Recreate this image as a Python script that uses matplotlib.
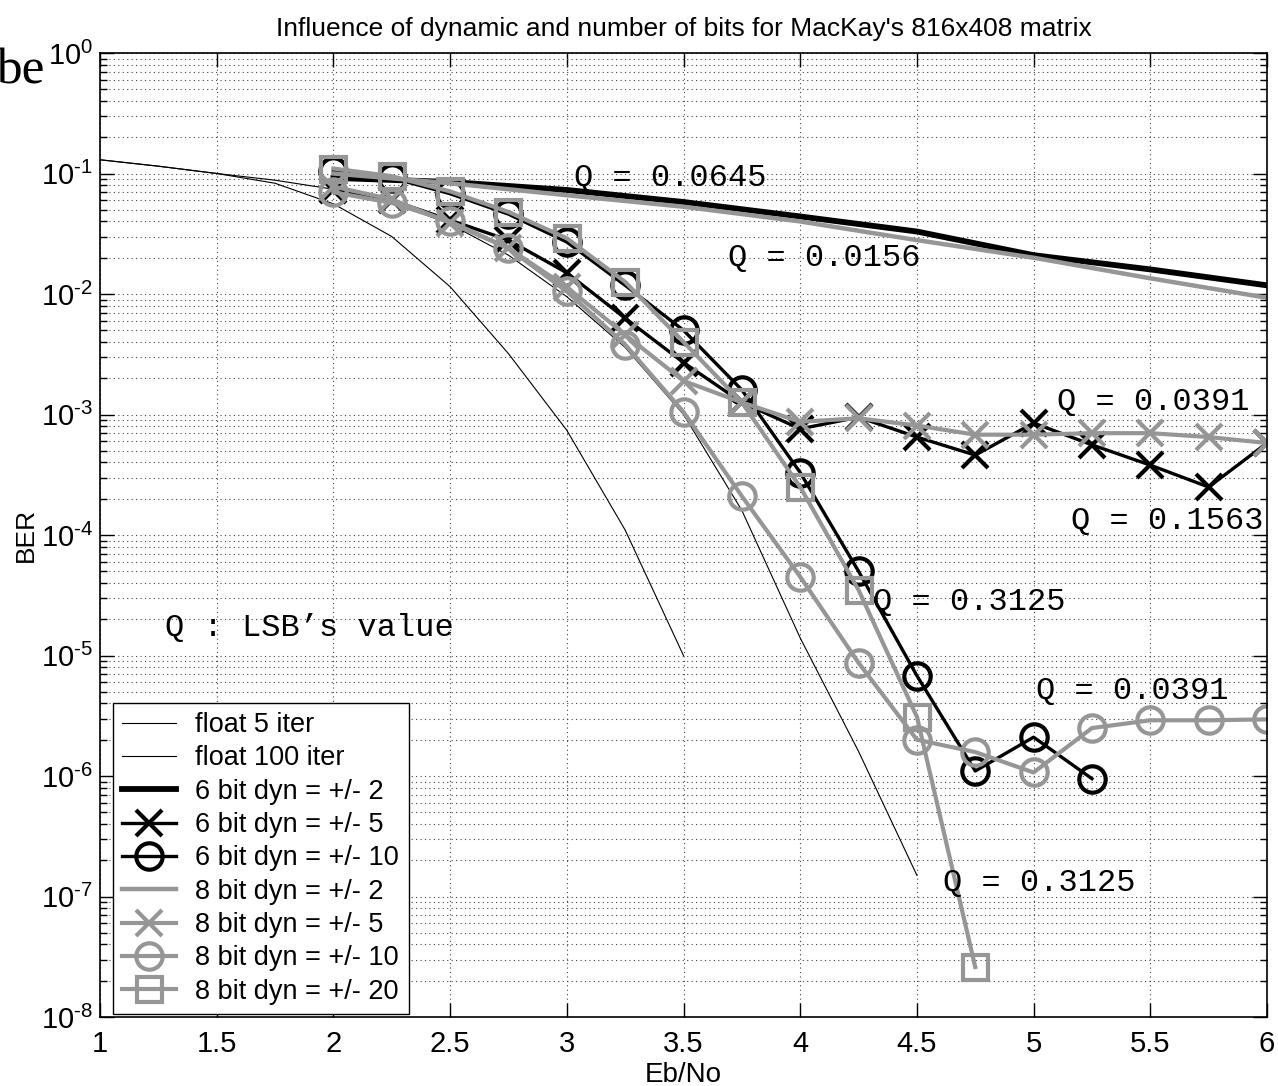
import matplotlib
matplotlib.use("Agg")
import matplotlib.pyplot as plt
import numpy as np

plt.rcParams['font.family'] = ['Liberation Sans', 'DejaVu Sans']
plt.rcParams['mathtext.fontset'] = 'custom'
plt.rcParams['mathtext.rm'] = 'Liberation Sans'

# Eb/No grids
ebno_float5 = [1.0, 1.25, 1.5, 1.75, 2.0, 2.25, 2.5, 2.75, 3.0, 3.25, 3.5]
ebno_float100 = [1.0, 1.25, 1.5, 1.75, 2.0, 2.25, 2.5, 2.75, 3.0, 3.25, 3.5,
                 3.75, 4.0, 4.25, 4.5]
ebno_half = [2.0, 2.5, 3.0, 3.5, 4.0, 4.5, 5.0, 5.5, 6.0]
ebno_full = [2.0, 2.25, 2.5, 2.75, 3.0, 3.25, 3.5, 3.75, 4.0, 4.25, 4.5,
             4.75, 5.0, 5.25, 5.5, 5.75, 6.0]

# BER values
ber_float5 = [0.13, 0.115, 0.1, 0.083, 0.056, 0.03, 0.0115, 3.2e-3, 7.4e-4,
              1.1e-4, 1.0e-5]
ber_float100 = [0.13, 0.115, 0.1, 0.088, 0.074, 0.058, 0.038, 0.021, 0.0095,
                0.0036, 0.001, 1.6e-4, 1.4e-5, 1.6e-6, 1.5e-7]
ber_6b_d2 = [0.092, 0.085, 0.073, 0.058, 0.044, 0.033, 0.021, 0.016, 0.0118]
ber_6b_d5 = [0.073, 0.060, 0.041, 0.028, 0.015, 0.0063, 0.0027, 0.00126,
             7.6e-4, 9.5e-4, 6.5e-4, 4.6e-4, 8.5e-4, 5.6e-4, 3.8e-4, 2.5e-4,
             5.8e-4]
ber_6b_d10 = [0.105, 0.092, 0.068, 0.046, 0.027, 0.0118, 0.0050, 0.0016,
              3.3e-4, 5.0e-5, 6.8e-6, 1.1e-6, 2.1e-6, 9.5e-7]
ber_8b_d2 = [0.10, 0.083, 0.066, 0.053, 0.040, 0.028, 0.020, 0.0135, 0.0093]
ber_8b_d5 = [0.078, 0.061, 0.039, 0.024, 0.0114, 0.0046, 0.0019, 0.00126,
             8.7e-4, 9.3e-4, 8.1e-4, 6.8e-4, 6.8e-4, 7.0e-4, 7.0e-4, 6.5e-4,
             5.8e-4]
ber_8b_d10 = [0.070, 0.057, 0.040, 0.024, 0.0105, 0.0038, 0.00105, 2.1e-4,
              4.5e-5, 8.7e-6, 2.0e-6, 1.58e-6, 1.07e-6, 2.5e-6, 2.9e-6, 2.9e-6,
              2.95e-6]
ber_8b_d20 = [0.11, 0.095, 0.071, 0.048, 0.029, 0.0126, 0.0040, 0.00126,
              2.5e-4, 3.5e-5, 3.1e-6, 2.6e-8]

# annotations: (text, Eb/No, BER) - left edge, vertical center
q_labels = ["Q = 0.0645", "Q = 0.0156", "Q = 0.0391", "Q = 0.1563",
            "Q = 0.3125", "Q = 0.0391", "Q = 0.3125"]
q_x = [3.03, 3.69, 5.10, 5.16, 4.31, 5.01, 4.61]
q_y = [0.092, 0.020, 1.26e-3, 1.3e-4, 2.8e-5, 5.1e-6, 1.3e-7]

gray = '#969696'

fig = plt.figure(figsize=(12.78, 10.86), dpi=100)
ax = fig.add_axes([100 / 1278, 1 - 1017 / 1086, 1167 / 1278, 964 / 1086])

ms = 19
ax.plot(ebno_float5, ber_float5, color='black', lw=0.8, label='float 5 iter')
ax.plot(ebno_float100, ber_float100, color='black', lw=0.8, label='float 100 iter')
ax.plot(ebno_half, ber_6b_d2, color='black', lw=4.2, label='6 bit dyn = +/- 2')
ax.plot(ebno_full, ber_6b_d5, color='black', lw=2.4, marker='x', ms=ms, mew=3,
        label='6 bit dyn = +/- 5')
ax.plot(ebno_full[:len(ber_6b_d10)], ber_6b_d10, color='black', lw=2.4, marker='o',
        ms=ms, mew=3, mfc='none', label='6 bit dyn = +/- 10')
ax.plot(ebno_half, ber_8b_d2, color=gray, lw=3.2, label='8 bit dyn = +/- 2')
ax.plot(ebno_full, ber_8b_d5, color=gray, lw=3.0, marker='x', ms=ms, mew=3,
        label='8 bit dyn = +/- 5')
ax.plot(ebno_full, ber_8b_d10, color=gray, lw=3.0, marker='o', ms=ms, mew=3,
        mfc='none', label='8 bit dyn = +/- 10')
ax.plot(ebno_full[:len(ber_8b_d20)], ber_8b_d20, color=gray, lw=3.0, marker='s',
        ms=ms - 1, mew=3, mfc='none', label='8 bit dyn = +/- 20')

ax.set_yscale('log')
ax.set_xlim(1, 6)
ax.set_ylim(1e-8, 1)
ax.set_xticks([1, 1.5, 2, 2.5, 3, 3.5, 4, 4.5, 5, 5.5, 6])
ax.set_xticklabels(['1', '1.5', '2', '2.5', '3', '3.5', '4', '4.5', '5', '5.5', '6'])
ax.yaxis.set_major_locator(matplotlib.ticker.LogLocator(base=10, numticks=20))
ax.yaxis.set_minor_locator(matplotlib.ticker.LogLocator(base=10, subs=np.arange(2, 10), numticks=20))
ax.yaxis.set_major_formatter(matplotlib.ticker.FuncFormatter(
    lambda v, p: r'$\mathdefault{10^{\text{-}%d}}$' % round(-np.log10(v)) if v < 1 else r'$\mathdefault{10^{0}}$'))
ax.tick_params(which='both', direction='in', top=True, right=True)
ax.tick_params(axis='x', labelsize=21, pad=9)
ax.tick_params(axis='y', labelsize=21, pad=5)
ax.tick_params(which='major', length=10, width=1)
ax.tick_params(which='minor', length=5, width=1)
ax.grid(True, which='major', linestyle=(0, (1, 3)), color='#444444', lw=0.8)
ax.grid(True, which='minor', axis='y', linestyle=(0, (1, 3)), color='#444444', lw=0.8)
for s in ax.spines.values():
    s.set_linewidth(1.2)

ax.set_title("Influence of dynamic and number of bits for MacKay's 816x408 matrix",
             fontsize=19, pad=12)
ax.set_xlabel('Eb/No', fontsize=20, labelpad=3)
ax.set_ylabel('BER', fontsize=19, labelpad=2)

for t, xq, yq in zip(q_labels, q_x, q_y):
    ax.text(xq, yq, t, family='Liberation Mono', fontsize=23, va='center', ha='left')
ax.text(1.28, 1.7e-5, "Q : LSB\u2019s value", family='Liberation Mono', fontsize=23,
        va='center', ha='left')

leg = ax.legend(loc='lower left', bbox_to_anchor=(0.011, 0.003), fontsize=19.5,
                handlelength=2.0, labelspacing=0.27, borderpad=0.35,
                handletextpad=0.7, fancybox=False, framealpha=1,
                edgecolor='black', borderaxespad=0)
leg.get_frame().set_linewidth(1.0)

fig.text(44 / 1278, 1 - 83 / 1086, 'be', family='Liberation Serif', fontsize=37,
         ha='right', va='baseline')

fig.savefig('out.png', dpi=100)
